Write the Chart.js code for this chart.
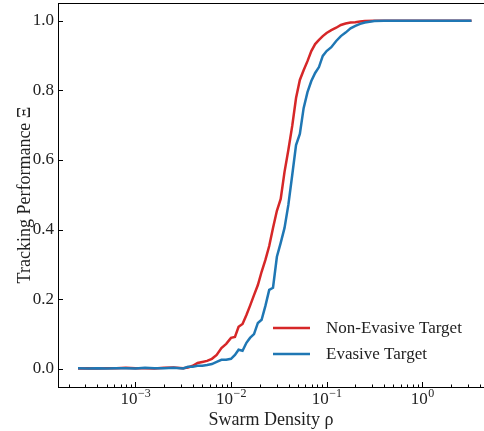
<!DOCTYPE html>
<html lang="en">
<head>
    <meta charset="UTF-8">
    <title>Tracking Performance vs Swarm Density</title>
    <style>
        html, body {
            margin: 0;
            padding: 0;
            background: #fff;
            overflow: hidden;
        }
        .wrap {
            width: 484px;
            height: 431px;
        }
    </style>
</head>
<body>
    <div class="wrap">
        <canvas id="myChart" width="484" height="431"></canvas>
    </div>

    <script src="https://cdn.jsdelivr.net/npm/chart.js"></script>
    <script>
        // swarm density (x) values
        const density = [
            0.000251, 0.000316, 0.000398, 0.000501, 0.000631, 0.000794, 0.001, 0.00126, 0.00158, 0.002,
            0.00251, 0.00316, 0.00355, 0.00398, 0.00447, 0.00501, 0.00562, 0.00631, 0.00708, 0.00794,
            0.00891, 0.01, 0.011, 0.012, 0.0132, 0.0145, 0.0158, 0.0174, 0.0191, 0.0209,
            0.0229, 0.0251, 0.0275, 0.0302, 0.0331, 0.0363, 0.0398, 0.0437, 0.0479, 0.0525,
            0.0575, 0.0631, 0.0692, 0.0759, 0.0832, 0.0912, 0.1, 0.112, 0.126, 0.141,
            0.158, 0.178, 0.2, 0.224, 0.251, 0.316, 0.398, 0.501, 0.631, 0.794,
            1, 1.26, 1.58, 2, 2.51, 3.28
        ];
        const nonEvasive = [
            0.001, 0.002, 0.001, 0.002, 0.002, 0.003, 0.002, 0.002, 0.001, 0.003,
            0.004, 0.002, 0.004, 0.009, 0.017, 0.020, 0.023, 0.029, 0.040, 0.060,
            0.072, 0.089, 0.092, 0.121, 0.129, 0.155, 0.181, 0.212, 0.241, 0.279,
            0.313, 0.353, 0.405, 0.454, 0.488, 0.566, 0.629, 0.698, 0.778, 0.830,
            0.858, 0.884, 0.913, 0.933, 0.945, 0.956, 0.965, 0.973, 0.980, 0.988,
            0.992, 0.995, 0.996, 0.998, 0.999, 1.0, 1.0, 1.0, 1.0, 1.0,
            1.0, 1.0, 1.0, 1.0, 1.0, 1.0
        ];
        const evasive = [
            0.002, 0.001, 0.002, 0.001, 0.002, 0.002, 0.001, 0.003, 0.002, 0.002,
            0.003, 0.001, 0.006, 0.006, 0.009, 0.009, 0.011, 0.014, 0.020, 0.026,
            0.026, 0.029, 0.040, 0.055, 0.052, 0.075, 0.089, 0.100, 0.132, 0.141,
            0.181, 0.227, 0.233, 0.322, 0.362, 0.405, 0.471, 0.557, 0.643, 0.675,
            0.749, 0.795, 0.827, 0.850, 0.867, 0.899, 0.913, 0.924, 0.942, 0.956,
            0.966, 0.978, 0.985, 0.991, 0.995, 0.999, 1.0, 1.0, 1.0, 1.0,
            1.0, 1.0, 1.0, 1.0, 1.0, 1.0
        ];
        const xTicks = [0.001, 0.01, 0.1, 1];
        const xTickExp = ['\u22123', '\u22122', '\u22121', '0'];
        const yTicks = [0, 0.2, 0.4, 0.6, 0.8, 1.0];

        const RED = '#d62728';
        const BLUE = '#1f77b4';
        const TEXT = '#222';
        const FONT = "'Liberation Serif', 'DejaVu Serif', serif";

        // inward tick marks, top spine, x tick labels and the legend inside the plot
        const axesDeco = {
            id: 'axesDeco',
            afterDraw(chart) {
                const ctx = chart.ctx;
                const area = chart.chartArea;
                const xs = chart.scales.x;
                const ys = chart.scales.y;
                ctx.save();
                ctx.strokeStyle = '#000';
                ctx.lineWidth = 1;
                ctx.beginPath();
                ctx.moveTo(area.left, area.top + 0.5);
                ctx.lineTo(area.right, area.top + 0.5);
                // y major ticks
                yTicks.forEach(v => {
                    const py = Math.round(ys.getPixelForValue(v)) + 0.5;
                    ctx.moveTo(area.left, py);
                    ctx.lineTo(area.left + 5, py);
                });
                // x major and minor ticks
                for (let e = -4; e <= 0; e++) {
                    for (let m = 1; m <= 9; m++) {
                        const v = m * Math.pow(10, e);
                        if (v < xs.min || v > xs.max) continue;
                        const px = Math.round(xs.getPixelForValue(v)) + 0.5;
                        const len = m === 1 ? 5 : 2.5;
                        ctx.moveTo(px, area.bottom);
                        ctx.lineTo(px, area.bottom - len);
                    }
                }
                ctx.stroke();

                // x tick labels: 10 with a raised exponent
                ctx.fillStyle = TEXT;
                ctx.textBaseline = 'alphabetic';
                xTicks.forEach((v, i) => {
                    const px = xs.getPixelForValue(v);
                    ctx.font = '17px ' + FONT;
                    const wBase = ctx.measureText('10').width;
                    ctx.font = '12px ' + FONT;
                    const wExp = ctx.measureText(xTickExp[i]).width;
                    const x0 = px - (wBase + wExp) / 2;
                    ctx.font = '17px ' + FONT;
                    ctx.textAlign = 'left';
                    ctx.fillText('10', x0, area.bottom + 17);
                    ctx.font = '12px ' + FONT;
                    ctx.fillText(xTickExp[i], x0 + wBase + 0.5, area.bottom + 10);
                });

                // legend
                ctx.font = '17px ' + FONT;
                ctx.textBaseline = 'middle';
                ctx.textAlign = 'left';
                const items = [
                    { ds: chart.data.datasets[0], y: 328 },
                    { ds: chart.data.datasets[1], y: 354 }
                ];
                items.forEach(it => {
                    ctx.strokeStyle = it.ds.borderColor;
                    ctx.lineWidth = 2.5;
                    ctx.beginPath();
                    ctx.moveTo(273, it.y);
                    ctx.lineTo(310, it.y);
                    ctx.stroke();
                    ctx.fillStyle = TEXT;
                    ctx.fillText(it.ds.label, 326, it.y + 1);
                });
                ctx.restore();
            }
        };

        const ctx = document.getElementById('myChart').getContext('2d');
        new Chart(ctx, {
            type: 'line',
            data: {
                datasets: [{
                    label: 'Non-Evasive Target',
                    data: density.map((x, i) => ({ x: x, y: nonEvasive[i] })),
                    borderColor: RED,
                    backgroundColor: RED,
                    borderWidth: 2.5,
                    pointRadius: 0,
                    tension: 0,
                    order: 1
                }, {
                    label: 'Evasive Target',
                    data: density.map((x, i) => ({ x: x, y: evasive[i] })),
                    borderColor: BLUE,
                    backgroundColor: BLUE,
                    borderWidth: 2.5,
                    pointRadius: 0,
                    tension: 0,
                    order: 0
                }]
            },
            options: {
                responsive: false,
                animation: false,
                devicePixelRatio: 1,
                layout: { padding: { top: 3, left: 0, right: 0, bottom: 0 } },
                plugins: {
                    legend: { display: false },
                    tooltip: { enabled: false }
                },
                scales: {
                    x: {
                        type: 'logarithmic',
                        min: 0.000155,
                        max: 4.43,
                        afterFit: s => {
                            s.height = 44;
                            s.paddingLeft = 0;
                            s.paddingRight = 0;
                        },
                        afterBuildTicks: s => { s.ticks = xTicks.map(v => ({ value: v })); },
                        grid: { display: false, drawTicks: false },
                        border: { display: true, color: '#000', width: 1 },
                        ticks: {
                            autoSkip: false,
                            maxRotation: 0,
                            padding: 2,
                            font: { family: FONT, size: 17 },
                            callback: () => ''
                        },
                        title: {
                            display: true,
                            text: 'Swarm Density \u03C1',
                            color: TEXT,
                            font: { family: FONT, size: 18 },
                            padding: { top: 8, bottom: 0 }
                        }
                    },
                    y: {
                        type: 'linear',
                        min: -0.052,
                        max: 1.051,
                        afterFit: s => {
                            s.width = 58;
                            s.paddingTop = 0;
                            s.paddingBottom = 0;
                        },
                        afterBuildTicks: s => { s.ticks = yTicks.map(v => ({ value: v })); },
                        grid: { display: false, drawTicks: false },
                        border: { display: true, color: '#000', width: 1 },
                        ticks: {
                            padding: 4,
                            color: TEXT,
                            font: { family: FONT, size: 17 },
                            callback: v => v.toFixed(1)
                        },
                        title: {
                            display: true,
                            text: 'Tracking Performance \u039E',
                            color: TEXT,
                            font: { family: FONT, size: 18 },
                            padding: { top: 14, bottom: 0 }
                        }
                    }
                }
            },
            plugins: [axesDeco]
        });
    </script>
</body>
</html>
